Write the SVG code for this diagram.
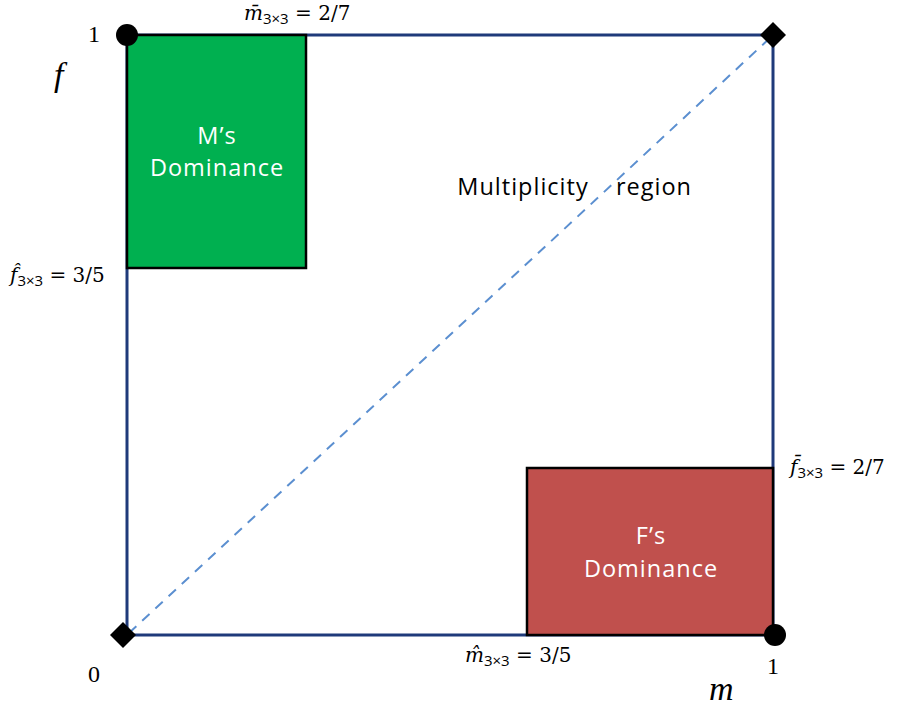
<svg xmlns="http://www.w3.org/2000/svg" width="899" height="709" viewBox="0 0 899 709">
<style>
.math{font-family:"DejaVu Serif","Liberation Serif",serif;font-size:20px;fill:#000}
.it{font-style:italic}
.sub{font-family:"Open Sans","Liberation Sans",sans-serif;font-size:15px}
.lbl{font-family:"Open Sans","Liberation Sans",sans-serif;font-size:23.5px;text-anchor:middle;letter-spacing:1px}
.num{font-family:"Liberation Serif",serif;font-size:24px;fill:#000}
.axis{font-family:"Liberation Serif",serif;font-style:italic;font-size:34px;fill:#000}
</style>
<rect width="899" height="709" fill="#fff"/>
<g id="connectors">
<rect x="127" y="35" width="646" height="600" fill="none" stroke="#1f3a7a" stroke-width="3"/>
<line x1="129" y1="633" x2="771" y2="37" stroke="#5b8fd0" stroke-width="2" stroke-dasharray="10,8"/>
</g>
<g id="m-dominance">
<rect x="127" y="35" width="179" height="233" fill="#00b050" stroke="#000" stroke-width="2.5"/>
<text class="lbl" fill="#fff" x="217" y="144">M’s</text>
<text class="lbl" fill="#fff" x="217" y="176">Dominance</text>
</g>
<g id="f-dominance">
<rect x="527" y="468" width="246" height="167" fill="#c0504d" stroke="#000" stroke-width="2.5"/>
<text class="lbl" fill="#fff" x="651" y="544">F’s</text>
<text class="lbl" fill="#fff" x="651" y="577">Dominance</text>
</g>
<g id="multiplicity">
<text class="lbl" fill="#000" x="523" y="195">Multiplicity</text>
<text class="lbl" fill="#000" x="654" y="195">region</text>
</g>
<g id="corners">
<circle cx="127" cy="35" r="11" fill="#000"/>
<circle cx="775" cy="635" r="11" fill="#000"/>
<polygon points="773,22 786,35 773,48 760,35" fill="#000"/>
<polygon points="123,622 136,635 123,648 110,635" fill="#000"/>
</g>
<g id="labels">
<text class="num" x="88" y="42">1</text>
<text class="axis" x="54" y="86">f</text>
<text class="num" x="88" y="682">0</text>
<text class="num" x="767" y="674">1</text>
<text class="axis" x="709" y="700">m</text>
<text class="math" x="244" y="20"><tspan class="it">m̄</tspan><tspan class="sub" dy="4">3×3</tspan><tspan dy="-4"> = 2/7</tspan></text>
<text class="math" x="10" y="282"><tspan class="it">f̂</tspan><tspan class="sub" dy="4">3×3</tspan><tspan dy="-4"> = 3/5</tspan></text>
<text class="math" x="790" y="474"><tspan class="it">f̄</tspan><tspan class="sub" dy="4">3×3</tspan><tspan dy="-4"> = 2/7</tspan></text>
<text class="math" x="465" y="662"><tspan class="it">m̂</tspan><tspan class="sub" dy="4">3×3</tspan><tspan dy="-4"> = 3/5</tspan></text>
</g>
</svg>
